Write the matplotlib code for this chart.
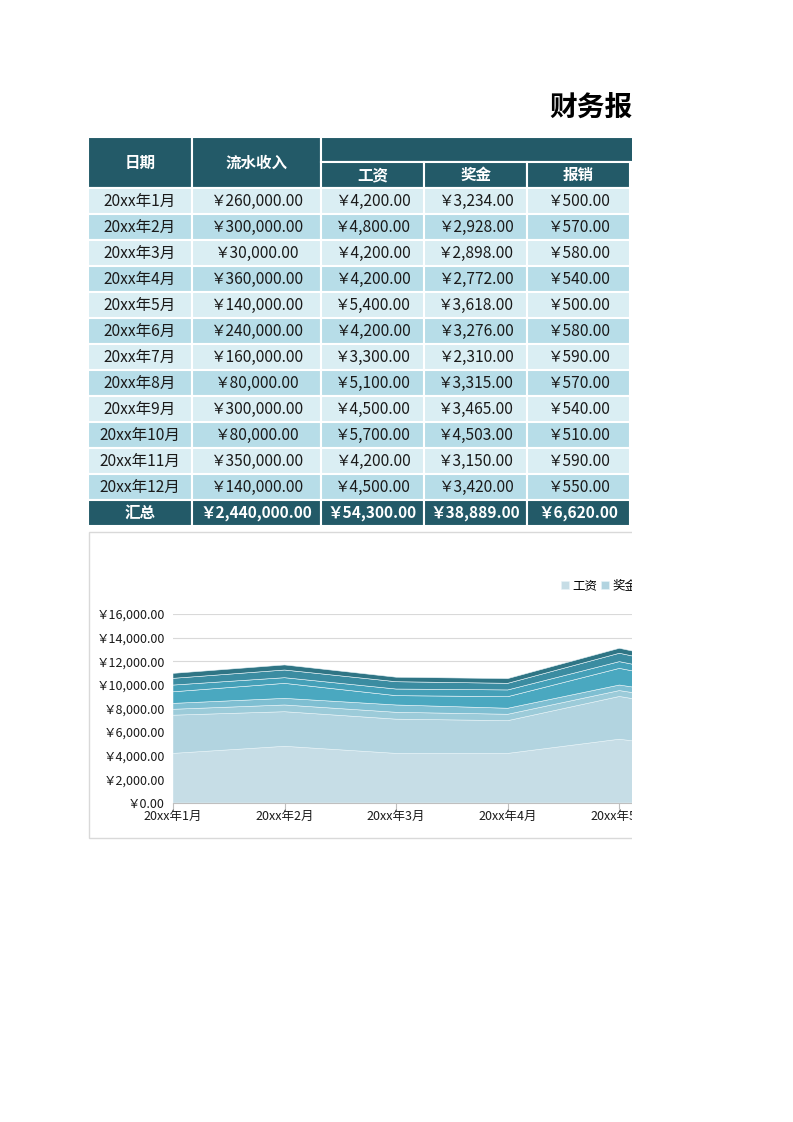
import matplotlib
matplotlib.use("Agg")
import matplotlib.pyplot as plt
from matplotlib.patches import Rectangle
from matplotlib.ticker import FuncFormatter, MultipleLocator
import numpy as np

plt.rcParams['font.family'] = ['Noto Sans CJK SC', 'DejaVu Sans']

# ==================== 数据 ====================
months = ['20xx年%d月' % i for i in range(1, 13)]
income = [260000, 300000, 30000, 360000, 140000, 240000,
          160000, 80000, 300000, 80000, 350000, 140000]
salary = [4200, 4800, 4200, 4200, 5400, 4200, 3300, 5100, 4500, 5700, 4200, 4500]
bonus = [3234, 2928, 2898, 2772, 3618, 3276, 2310, 3315, 3465, 4503, 3150, 3420]
reimb = [500, 570, 580, 540, 500, 580, 590, 570, 540, 510, 590, 550]
# 右侧被裁掉的支出列(仅从图中估读前5个月)
social = [500, 560, 620, 510, 470, 520, 540, 500, 520, 560, 500, 530]
rent = [980, 1270, 790, 980, 1410, 1000, 900, 1100, 1000, 1200, 950, 1050]
traffic = [570, 480, 560, 570, 570, 520, 500, 540, 560, 530, 550, 520]
phone = [570, 650, 620, 560, 710, 600, 580, 620, 640, 650, 600, 610]
other = [420, 430, 380, 400, 420, 410, 400, 420, 410, 430, 400, 420]

series_names = ['工资', '奖金', '报销', '社保', '房租', '交通', '通讯', '其他']
series_vals = [salary, bonus, reimb, social, rent, traffic, phone, other]
layer_colors = ['#c6dde6', '#b2d4e0', '#9ccbd9', '#7fbfd2',
                '#4aa8c0', '#45a0b8', '#3b8ca1', '#2f7585']

W, H = 793, 1122
CUT = 632          # 页面在此处被裁切
HEAD = '#235a68'
ROW_A = '#daeef3'
ROW_B = '#b7dde8'

fig = plt.figure(figsize=(W / 100, H / 100), dpi=100)

# 背景轴: 像素坐标
bg = fig.add_axes([0, 0, 1, 1])
bg.set_xlim(0, W)
bg.set_ylim(H, 0)
bg.axis('off')

def cell(x0, x1, y0, y1, color, text='', tcolor='black', bold=False, size=11.2):
    bg.add_patch(Rectangle((x0, y0), x1 - x0, y1 - y0, facecolor=color,
                           edgecolor='white', linewidth=1.5))
    if text:
        bg.text((x0 + x1) / 2, (y0 + y1) / 2, text, ha='center', va='center',
                color=tcolor, fontsize=size, fontweight='bold' if bold else 'normal')

# 标题
bg.text(549, 107, '财务报表', fontsize=20, fontweight='bold', ha='left', va='center')

# 表头
col_x = [88, 192, 321, 424, 527, 630]
cell(88, 192, 137, 188, HEAD, '日期', 'white', True, 11.2)
cell(192, 321, 137, 188, HEAD, '流水收入', 'white', True, 11.2)
cell(321, 780, 137, 162, HEAD)
for i, name in enumerate(['工资', '奖金', '报销']):
    cell(col_x[2 + i], col_x[3 + i], 162, 188, HEAD, name, 'white', True, 11.2)

fmt = lambda v: '￥{:,.2f}'.format(v)

row_h = 26
for r in range(12):
    y0 = 188 + r * row_h
    c = ROW_A if r % 2 == 0 else ROW_B
    vals = [months[r], fmt(income[r]), fmt(salary[r]), fmt(bonus[r]), fmt(reimb[r])]
    for j, v in enumerate(vals):
        cell(col_x[j], col_x[j + 1], y0, y0 + row_h, c, v, '#1a1a1a')

y0 = 188 + 12 * row_h
tot = ['汇总', fmt(sum(income)), fmt(sum(salary)), fmt(sum(bonus)), fmt(sum(reimb))]
for j, v in enumerate(tot):
    cell(col_x[j], col_x[j + 1], y0, y0 + row_h, HEAD, v, 'white', True)

# 图表外框
bg.add_patch(Rectangle((88.5, 531.5), 700, 306, facecolor='white',
                       edgecolor='#d9d9d9', linewidth=1))

# ==================== 堆积面积图 ====================
x = np.arange(12)
px_step = 111.6
left_px, top_px, bot_px = 173, 614, 803
ax = fig.add_axes([left_px / W, 1 - bot_px / H, (CUT - left_px) / W, (bot_px - top_px) / H])
ax.set_facecolor('none')
polys = ax.stackplot(x, *series_vals, labels=series_names, colors=layer_colors,
                     edgecolor='#e8f4f8', linewidth=0.4)
ax.set_xlim(0, (CUT - left_px) / px_step)
ax.set_ylim(0, 16000)
ax.yaxis.set_major_locator(MultipleLocator(2000))
ax.yaxis.set_major_formatter(FuncFormatter(lambda v, p: '￥{:,.2f}'.format(v)))
ax.set_xticks(x[:5])
ax.set_xticklabels(months[:5])
ax.grid(axis='y', color='#d9d9d9', linewidth=0.8)
ax.set_axisbelow(True)
for s in ['top', 'right', 'left']:
    ax.spines[s].set_visible(False)
ax.spines['bottom'].set_color('#bfbfbf')
ax.tick_params(axis='y', length=0, labelsize=9, pad=6, colors='#1a1a1a')
ax.tick_params(axis='x', length=4, color='#bfbfbf', labelsize=9, pad=1, colors='#1a1a1a')

fig.legend(handles=polys[:2], labels=series_names[:2], loc='center left',
           bbox_to_anchor=(555 / W, 1 - 586 / H), ncol=2, frameon=False,
           fontsize=9, handlelength=0.6, handleheight=0.6, handletextpad=0.3,
           columnspacing=0.3, borderpad=0)

# 页面右侧被裁切
fig.add_artist(Rectangle((CUT / W, 0), 1, 1, transform=fig.transFigure,
                         facecolor='white', edgecolor='none', zorder=100))

fig.savefig('out.png', dpi=100)
